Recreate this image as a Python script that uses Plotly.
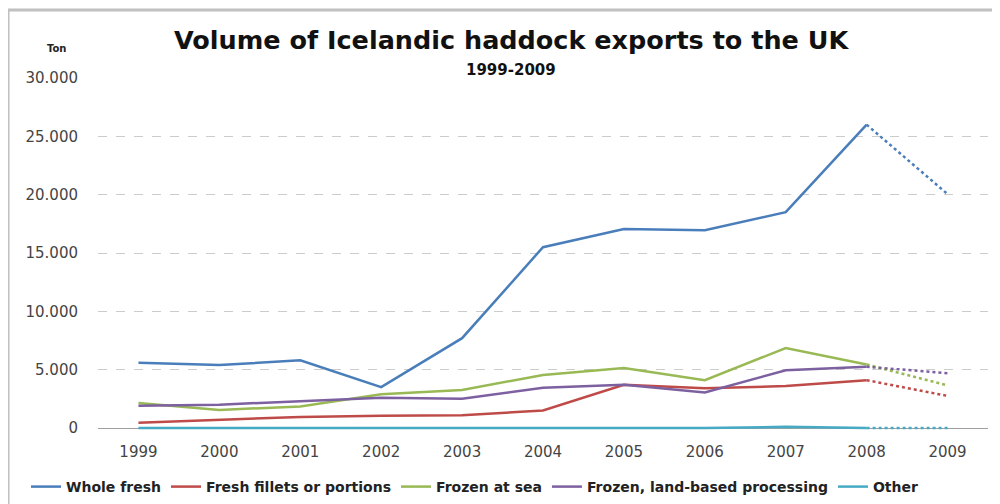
import plotly.graph_objects as go

years = ["1999", "2000", "2001", "2002", "2003", "2004", "2005", "2006", "2007", "2008", "2009"]
whole_fresh = [5600, 5400, 5800, 3500, 7700, 15500, 17050, 16950, 18500, 26000, 20050]
fresh_fillets = [450, 700, 950, 1050, 1100, 1500, 3700, 3400, 3600, 4100, 2750]
frozen_sea = [2150, 1550, 1850, 2900, 3250, 4550, 5150, 4100, 6850, 5450, 3650]
frozen_land = [1900, 2000, 2300, 2600, 2500, 3450, 3700, 3050, 4950, 5250, 4700]
other = [0, 0, 0, 0, 0, 0, 0, 0, 100, 0, 0]

series = [
    ("Whole fresh", whole_fresh, "#4a7ebb"),
    ("Fresh fillets or portions", fresh_fillets, "#be4b48"),
    ("Frozen at sea", frozen_sea, "#98b954"),
    ("Frozen, land-based processing", frozen_land, "#7d60a0"),
    ("Other", other, "#46aac5"),
]

FONT = "DejaVu Sans"
fig = go.Figure()
for name, vals, col in series:
    fig.add_trace(go.Scatter(x=years[:10], y=vals[:10], mode="lines", name=name,
                             line=dict(color=col, width=2.5)))
for name, vals, col in series:
    fig.add_trace(go.Scatter(x=years[9:], y=vals[9:], mode="lines", name=name,
                             showlegend=False, line=dict(color=col, width=2.5, dash="dot")))

# page coordinates (8px body margin included): plot spans x 98..988, y 78..430
def px(x):
    return (x - 98) / 890

def py(y):
    return (430 - y) / 352

fig.update_layout(
    width=1000, height=504,
    margin=dict(l=90, r=20, t=70, b=82, autoexpand=False),
    paper_bgcolor="white", plot_bgcolor="white",
    separators=",.",
    font=dict(family=FONT, color="#333333"),
    showlegend=True,
    legend=dict(orientation="h", x=px(26), xanchor="left", y=py(487), yanchor="middle",
                font=dict(size=14, color="#222222", family=FONT, weight="bold"),
                itemwidth=30, tracegroupgap=0),
    xaxis=dict(type="category", showgrid=False, zeroline=False, showline=False,
               ticks="outside", ticklen=8, tickcolor="rgba(0,0,0,0)",
               tickfont=dict(size=15, color="#444444"), range=[-0.5, 10.5]),
    yaxis=dict(range=[-30000 / 350 * 2, 30000], tickvals=[0, 5000, 10000, 15000, 20000, 25000, 30000],
               tickformat=",d",
               showgrid=True, gridcolor="#cccccc", griddash="dash", gridwidth=1,
               zeroline=True, zerolinecolor="#a0a0a0", zerolinewidth=1,
               ticks="outside", ticklen=16, tickcolor="rgba(0,0,0,0)",
               tickfont=dict(size=15, color="#444444")),
    shapes=[dict(type="rect", xref="paper", yref="paper",
                 x0=px(8), x1=1.03, y0=-0.3, y1=py(10),
                 line=dict(color="#c0c0c0", width=3))],
    annotations=[
        dict(text="<b>Volume of Icelandic haddock exports to the UK</b>", xref="paper", yref="paper",
             x=px(511), y=py(40), xanchor="center", yanchor="middle",
             showarrow=False, font=dict(size=25.5, color="#111111", family=FONT)),
        dict(text="<b>1999-2009</b>", xref="paper", yref="paper",
             x=px(511), y=py(70), xanchor="center", yanchor="middle",
             showarrow=False, font=dict(size=15, color="#111111", family=FONT)),
        dict(text="<b>Ton</b>", xref="paper", yref="paper",
             x=px(56), y=py(48), xanchor="center", yanchor="middle",
             showarrow=False, font=dict(size=10, color="#222222", family=FONT)),
    ],
)

fig.write_html("out.html")
